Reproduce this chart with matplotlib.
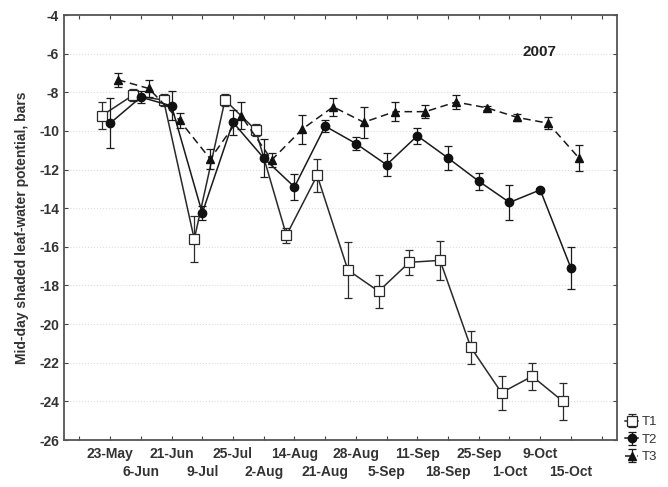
import matplotlib.pyplot as plt
import numpy as np

plt.rcParams['font.family'] = ['Liberation Sans', 'DejaVu Sans']

dates = ["23-May", "6-Jun", "21-Jun", "9-Jul", "25-Jul", "2-Aug", "14-Aug", "21-Aug",
         "28-Aug", "5-Sep", "11-Sep", "18-Sep", "25-Sep", "1-Oct", "9-Oct", "15-Oct"]

# T1 - open squares
t1 = [-9.2, -8.15, -8.4, -15.6, -8.4, -9.95, -15.4, -12.3,
      -17.2, -18.3, -16.8, -16.7, -21.2, -23.55, -22.7, -24.0]
t1_err = [0.7, 0.3, 0.3, 1.2, 0.3, 0.3, 0.4, 0.85,
          1.45, 0.85, 0.65, 1.0, 0.85, 0.88, 0.7, 0.95]

# T2 - filled circles
t2 = [-9.6, -8.25, -8.7, -14.25, -9.55, -11.4, -12.9, -9.75,
      -10.65, -11.75, -10.25, -11.4, -12.6, -13.7, -13.05, -17.1]
t2_err = [1.3, 0.3, 0.75, 0.35, 0.65, 1.0, 0.65, 0.3,
          0.35, 0.6, 0.4, 0.6, 0.45, 0.9, 0.1, 1.1]

# T3 - filled triangles
t3 = [-7.35, -7.8, -9.45, -11.45, -9.2, -11.5, -9.9, -8.75,
      -9.55, -9.0, -9.0, -8.5, -8.8, -9.3, -9.6, -11.4]
t3_err = [0.35, 0.45, 0.4, 0.5, 0.7, 0.35, 0.75, 0.45,
          0.8, 0.5, 0.33, 0.35, 0.1, 0.2, 0.3, 0.65]


def main():
    fig = plt.figure(figsize=(6.68, 4.87), dpi=100)
    ax = fig.add_axes([0.0958, 0.0965, 0.8279, 0.8725])

    x = np.arange(1, len(dates) + 1)
    off = 0.26

    ax.errorbar(x - off, t1, yerr=t1_err, color='#2a2a2a', lw=1.1, marker='s', ms=7,
                mfc='white', mec='#2a2a2a', mew=0.9, capsize=3, elinewidth=0.9,
                capthick=0.9, label='T1', zorder=3)
    ax.errorbar(x, t2, yerr=t2_err, color='#1a1a1a', lw=1.1, marker='o', ms=6,
                mfc='#111111', mec='#111111', capsize=3, elinewidth=0.9,
                capthick=0.9, label='T2', zorder=4)
    ax.errorbar(x + off, t3, yerr=t3_err, color='#1a1a1a', lw=1.1, ls=(0, (5, 3)),
                marker='^', ms=6, mfc='#111111', mec='#111111', capsize=3,
                elinewidth=0.9, capthick=0.9, label='T3', zorder=4)

    ax.set_xlim(-0.5, 17.5)
    ax.set_ylim(-26, -4)
    ax.set_yticks(np.arange(-26, -3, 2))
    ax.set_yticklabels([str(v) for v in range(-26, -3, 2)])

    # first row of dates on major ticks, second row on minor ticks
    ax.set_xticks(x[::2])
    ax.set_xticklabels(dates[::2])
    ax.set_xticks([0] + list(x[1::2]) + [17], minor=True)
    ax.set_xticklabels([""] + dates[1::2] + [""], minor=True)

    ax.tick_params(which='both', direction='in', length=3, width=0.8, color='#444444',
                   top=True, right=True, labelsize=10, labelcolor='#333333')
    ax.tick_params(axis='x', which='major', pad=5)
    ax.tick_params(axis='x', which='minor', pad=18)
    ax.tick_params(axis='y', which='minor', left=False, right=False)
    for lab in (ax.get_xticklabels() + ax.get_xticklabels(minor=True)
                + ax.get_yticklabels()):
        lab.set_fontweight('bold')

    ax.grid(axis='y', color='#dddddd', ls=':', lw=0.8)
    ax.set_axisbelow(True)
    for s in ax.spines.values():
        s.set_color('#555555')
        s.set_linewidth(1.3)

    ax.set_ylabel("Mid-day shaded leaf-water potential, bars", fontsize=10,
                  fontweight='bold', color='#333333', labelpad=7)
    ax.text(0.86, 0.912, "2007", transform=ax.transAxes, fontsize=11,
            fontweight='bold', color='#222222', ha='center', va='center')

    leg = ax.legend(loc='upper left', bbox_to_anchor=(1.0, 0.075), frameon=False,
                    fontsize=9.5, handlelength=1.0, handletextpad=0.3,
                    labelspacing=0.4, borderaxespad=0.2)
    for t in leg.get_texts():
        t.set_color('#333333')

    fig.savefig("out.png", dpi=100)


if __name__ == "__main__":
    main()
